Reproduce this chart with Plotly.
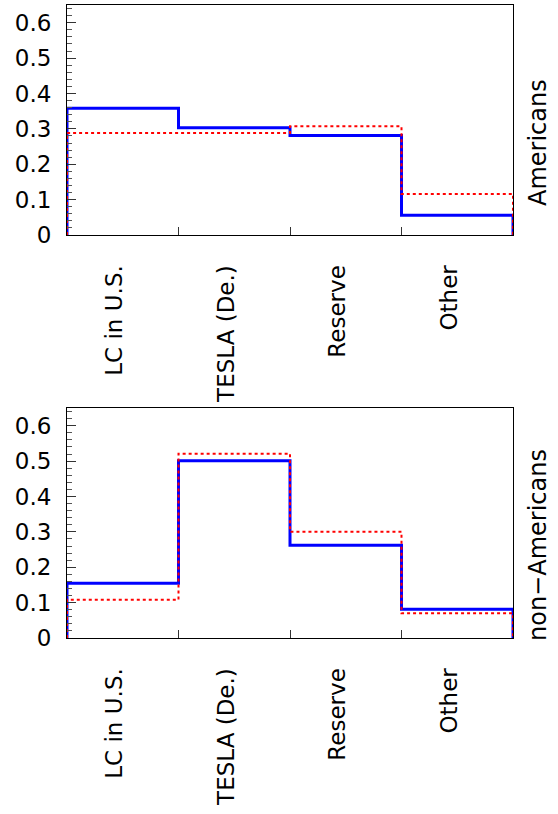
import plotly.graph_objects as go

categories = ["LC in U.S.", "TESLA (De.)", "Reserve", "Other"]
americans_blue = [0.358, 0.303, 0.281, 0.056]
americans_red = [0.288, 0.288, 0.307, 0.116]
nonamericans_blue = [0.155, 0.501, 0.262, 0.081]
nonamericans_red = [0.108, 0.521, 0.300, 0.070]
panel_titles = ["Americans", "non\u2212Americans"]

FONT = "DejaVu Sans"
W, H = 558, 814
ML, MR, MT, MB = 67, 45, 5, 176

def step(vals):
    n = len(vals)
    xs = [0, 0] + list(range(1, n)) + [n, n]
    ys = [0] + list(vals) + [vals[-1], 0]
    return xs, ys

fig = go.Figure()
panels = [(americans_blue, americans_red, "x", "y"),
          (nonamericans_blue, nonamericans_red, "x2", "y2")]
for blue, red, xa, ya in panels:
    bx, by = step(blue)
    rx, ry = step(red)
    fig.add_trace(go.Scatter(x=bx, y=by, mode="lines", line_shape="hv",
                             line=dict(color="#0000ff", width=3),
                             xaxis=xa, yaxis=ya, showlegend=False))
    fig.add_trace(go.Scatter(x=rx, y=ry, mode="lines", line_shape="hv",
                             line=dict(color="#ff0000", width=2, dash="dot"),
                             xaxis=xa, yaxis=ya, showlegend=False))

plot_h = H - MT - MB
panel_h = 230 / plot_h
domains = [[1 - panel_h, 1], [0, panel_h]]

centers = [i + 0.5 for i in range(len(categories))]
xcommon = dict(range=[0, len(categories)], tickmode="array", tickvals=centers,
               ticktext=categories, tickangle=-90, ticks="inside", ticklen=0,
               showline=True, linecolor="black", linewidth=1, mirror=True,
               showgrid=False, zeroline=False, automargin=False,
               tickfont=dict(family=FONT, size=23, color="black"),
               ticklabelstandoff=20, ticklabelshift=-8,
               minor=dict(tickmode="array", tickvals=[1, 2, 3], ticks="inside",
                          ticklen=8, tickcolor="#333", tickwidth=1))
ycommon = dict(range=[0, 0.65], dtick=0.1, tick0=0, ticks="inside", ticklen=9,
               tickcolor="#333", showline=True, linecolor="black", linewidth=1,
               mirror=True, showgrid=False, zeroline=False, automargin=False,
               tickfont=dict(family=FONT, size=23, color="black"),
               ticklabelstandoff=10,
               minor=dict(dtick=0.02, tick0=0, ticks="inside", ticklen=5,
                          tickcolor="#555"))

fig.update_layout(
    width=W, height=H,
    margin=dict(l=ML, r=MR, t=MT, b=MB),
    paper_bgcolor="white", plot_bgcolor="white",
    xaxis=dict(domain=[0, 1], anchor="y", **xcommon),
    yaxis=dict(domain=domains[0], anchor="x", **ycommon),
    xaxis2=dict(domain=[0, 1], anchor="y2", **xcommon),
    yaxis2=dict(domain=domains[1], anchor="x2", **ycommon),
)

title_y = [(H - MB - 143) / plot_h, (H - MB - 545) / plot_h]
for t, ty in zip(panel_titles, title_y):
    fig.add_annotation(text=t, xref="paper", yref="paper", x=1, y=ty,
                       xanchor="center", yanchor="middle", xshift=25,
                       textangle=-90, showarrow=False,
                       font=dict(family=FONT, size=24, color="black"))

fig.write_html("out.html", config={"displayModeBar": False},
               post_script="document.body.style.margin='0';")
